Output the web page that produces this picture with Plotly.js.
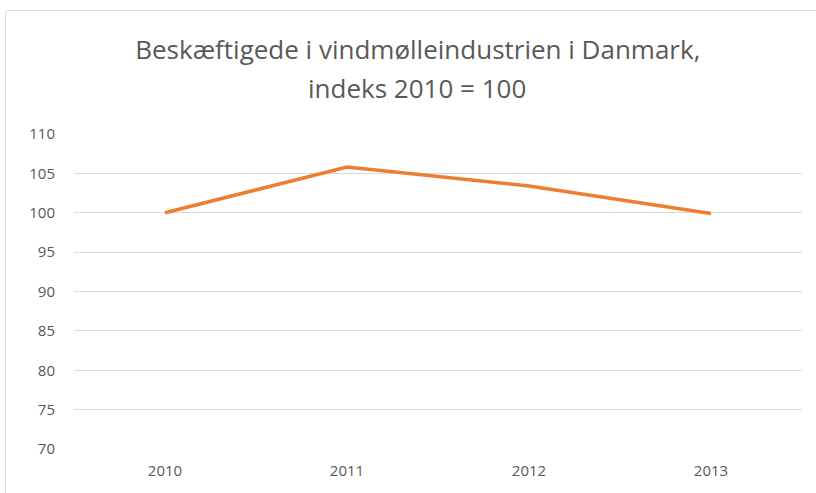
<!DOCTYPE html>
<html><head><meta charset="utf-8">
<script src="https://cdn.plot.ly/plotly-3.0.1.min.js"></script>
<style>
html,body{margin:0;padding:0;background:#fff;}
#frame{position:absolute;left:5px;top:10px;width:900px;height:600px;border:1.5px solid #d9d9d9;border-radius:3px;box-sizing:border-box;pointer-events:none;z-index:5;}
#chart{position:absolute;left:0;top:0;width:816px;height:493px;}
</style></head>
<body>
<div id="chart"></div><div id="frame"></div>
<script>
const years = ['2010','2011','2012','2013'];
const index = [100, 105.8, 103.4, 99.9];
const yTicks = [70,75,80,85,90,95,100,105,110];
const titleLine1 = 'Beskæftigede i vindmølleindustrien i Danmark,';
const titleLine2 = 'indeks 2010 = 100';

Plotly.newPlot('chart', [{
  x: years, y: index, type: 'scatter', mode: 'lines',
  line: {color: '#ED7D31', width: 3.5}, hoverinfo: 'skip'
}], {
  width: 816, height: 493,
  margin: {l: 74, r: 14, t: 134, b: 44},
  paper_bgcolor: '#fff', plot_bgcolor: '#fff',
  showlegend: false,
  font: {family: 'Open Sans, sans-serif', color: '#595959'},
  title: {text: titleLine1,
    font: {size: 26, color: '#595959', family: 'Open Sans, sans-serif'},
    x: 0.512, xanchor: 'center', y: 1 - 50/493, yanchor: 'middle', yref: 'container'},
  annotations: [{text: titleLine2, xref: 'paper', yref: 'paper', x: (417-74)/728, y: 1 + (134-88)/315,
    xanchor: 'center', yanchor: 'middle', showarrow: false,
    font: {size: 26, color: '#595959', family: 'Open Sans, sans-serif'}}],
  xaxis: {type: 'category', range: [-0.5, 3.5], showgrid: false, zeroline: false, showline: false,
    ticks: 'outside', ticklen: 8, tickcolor: 'rgba(0,0,0,0)',
    tickfont: {size: 15, color: '#595959'}},
  yaxis: {range: [70, 110], tickvals: yTicks, showgrid: true, gridcolor: '#d9d9d9', gridwidth: 1,
    zeroline: false, showline: false, ticks: 'outside', ticklen: 15, tickcolor: 'rgba(0,0,0,0)',
    tickfont: {size: 15, color: '#595959'}}
}, {staticPlot: true});
</script></body></html>
